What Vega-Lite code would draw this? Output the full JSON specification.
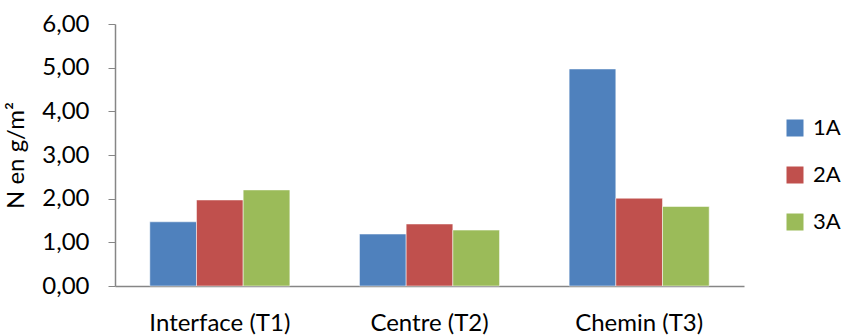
{
  "$schema": "https://vega.github.io/schema/vega-lite/v6.json",
  "width": 629,
  "height": 262,
  "autosize": {"type": "none"},
  "padding": {"left": 115, "top": 24, "right": 97, "bottom": 50},
  "background": "white",
  "config": {
    "locale": {"number": {"decimal": ",", "thousands": " ", "grouping": [3], "currency": ["", " €"]}},
    "font": "Lato",
    "view": {"stroke": null}
  },
  "data": {
    "values": [
      {"cat": "Interface (T1)", "serie": "1A", "value": 1.47},
      {"cat": "Interface (T1)", "serie": "2A", "value": 1.97},
      {"cat": "Interface (T1)", "serie": "3A", "value": 2.20},
      {"cat": "Centre (T2)", "serie": "1A", "value": 1.19},
      {"cat": "Centre (T2)", "serie": "2A", "value": 1.42},
      {"cat": "Centre (T2)", "serie": "3A", "value": 1.28},
      {"cat": "Chemin (T3)", "serie": "1A", "value": 4.97},
      {"cat": "Chemin (T3)", "serie": "2A", "value": 2.01},
      {"cat": "Chemin (T3)", "serie": "3A", "value": 1.82}
    ]
  },
  "mark": {"type": "bar", "stroke": "white", "strokeOpacity": 0.5, "strokeWidth": 1},
  "encoding": {
    "x": {
      "field": "cat", "type": "nominal", "sort": null,
      "scale": {"paddingInner": 0.332, "paddingOuter": 0.166},
      "axis": {"title": null, "labelAngle": 0, "labelFontSize": 24, "labelColor": "black", "labelPadding": 25, "ticks": false, "domainColor": "#868686", "domainWidth": 1.5}
    },
    "xOffset": {"field": "serie", "type": "nominal", "sort": ["1A", "2A", "3A"], "scale": {"paddingInner": 0, "paddingOuter": 0}},
    "y": {
      "field": "value", "type": "quantitative",
      "scale": {"domain": [0, 6], "nice": false},
      "axis": {"title": "N en g/m²", "titleFontSize": 24, "titleFontWeight": "normal", "titleColor": "black", "titlePadding": 13, "values": [0, 1, 2, 3, 4, 5, 6], "format": ".2f", "labelFontSize": 24, "labelColor": "black", "labelPadding": 19, "grid": false, "tickSize": 7, "tickColor": "#868686", "domainColor": "#868686", "domainWidth": 1.5}
    },
    "color": {
      "field": "serie", "type": "nominal",
      "scale": {"domain": ["1A", "2A", "3A"], "range": ["#4F81BD", "#C0504D", "#9BBB59"]},
      "legend": {"title": null, "orient": "none", "legendX": 669, "legendY": 93, "symbolType": "square", "symbolSize": 289, "symbolStrokeWidth": 0, "symbolOpacity": 1, "labelFontSize": 22, "labelColor": "black", "labelOffset": 7, "rowPadding": 25}
    }
  }
}
